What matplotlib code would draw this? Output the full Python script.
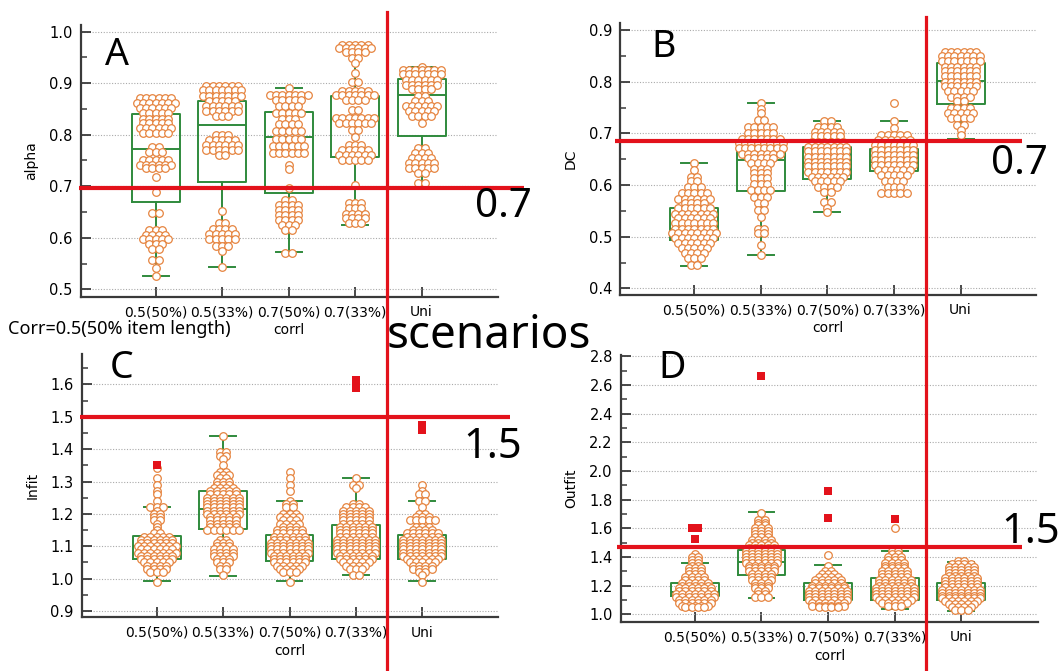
import numpy as np
import matplotlib
matplotlib.use('Agg')
import matplotlib.pyplot as plt
from matplotlib.lines import Line2D
from matplotlib.ticker import MultipleLocator, FormatStrFormatter

plt.rcParams['font.family'] = ['DejaVu Sans']

cats = ['0.5(50%)', '0.5(33%)', '0.7(50%)', '0.7(33%)', 'Uni']

# ---- A: alpha (value levels and number of replications at each level)
alpha_vals = [
    [0.871, 0.862, 0.852, 0.843, 0.830, 0.823, 0.813, 0.803, 0.777, 0.767, 0.751, 0.741,
     0.735, 0.718, 0.689, 0.648, 0.616, 0.606, 0.598, 0.588, 0.578, 0.556, 0.541, 0.525],
    [0.894, 0.886, 0.875, 0.866, 0.856, 0.846, 0.836, 0.800, 0.790, 0.781, 0.771, 0.760,
     0.652, 0.629, 0.617, 0.607, 0.597, 0.584, 0.575, 0.544],
    [0.891, 0.878, 0.868, 0.856, 0.843, 0.830, 0.820, 0.807, 0.791, 0.778, 0.765, 0.742,
     0.733, 0.697, 0.674, 0.664, 0.654, 0.645, 0.635, 0.625, 0.616, 0.571],
    [0.974, 0.968, 0.960, 0.949, 0.939, 0.919, 0.903, 0.884, 0.877, 0.867, 0.848, 0.832,
     0.822, 0.809, 0.796, 0.780, 0.770, 0.761, 0.751, 0.702, 0.667, 0.657, 0.647, 0.638, 0.628],
    [0.932, 0.926, 0.917, 0.907, 0.897, 0.888, 0.875, 0.865, 0.855, 0.846, 0.836, 0.823,
     0.775, 0.765, 0.755, 0.746, 0.736, 0.726, 0.707],
]
alpha_n = [
    [6, 7, 6, 5, 5, 5, 6, 5, 2, 3, 5, 6, 4, 1, 1, 2, 3, 4, 5, 3, 2, 2, 1, 1],
    [6, 7, 7, 5, 6, 6, 3, 3, 5, 6, 6, 2, 1, 2, 4, 5, 5, 3, 1, 1],
    [1, 7, 5, 4, 5, 3, 4, 5, 5, 6, 6, 1, 1, 1, 2, 4, 4, 4, 4, 3, 2, 2],
    [5, 6, 4, 2, 1, 1, 2, 5, 7, 4, 2, 7, 6, 2, 1, 3, 5, 6, 5, 1, 3, 3, 4, 4, 3],
    [1, 7, 7, 6, 6, 4, 2, 3, 6, 5, 4, 1, 2, 3, 4, 5, 5, 2, 2],
]
alpha_q1 = [0.670, 0.708, 0.686, 0.757, 0.797]
alpha_med = [0.772, 0.819, 0.796, 0.830, 0.877]
alpha_q3 = [0.841, 0.866, 0.845, 0.876, 0.908]
alpha_lo = [0.526, 0.544, 0.572, 0.624, 0.699]
alpha_hi = [0.869, 0.896, 0.891, 0.973, 0.932]

# ---- B: DC
dc_vals = [
    [0.642, 0.629, 0.616, 0.607, 0.597, 0.584, 0.574, 0.565, 0.555, 0.545, 0.536, 0.526,
     0.516, 0.507, 0.497, 0.487, 0.478, 0.468, 0.458, 0.445],
    [0.758, 0.748, 0.739, 0.726, 0.713, 0.700, 0.690, 0.681, 0.671, 0.661, 0.652, 0.642,
     0.632, 0.623, 0.613, 0.603, 0.590, 0.577, 0.565, 0.552, 0.539, 0.516, 0.507, 0.484, 0.464],
    [0.723, 0.713, 0.703, 0.694, 0.684, 0.674, 0.665, 0.655, 0.645, 0.636, 0.626, 0.616,
     0.607, 0.597, 0.587, 0.568, 0.555, 0.547],
    [0.758, 0.723, 0.710, 0.697, 0.687, 0.677, 0.668, 0.658, 0.648, 0.639, 0.629, 0.619,
     0.607, 0.597, 0.584],
    [0.857, 0.849, 0.839, 0.829, 0.820, 0.810, 0.800, 0.791, 0.781, 0.771, 0.762, 0.749,
     0.739, 0.729, 0.716, 0.707, 0.697],
]
dc_n = [
    [1, 1, 2, 2, 3, 5, 6, 4, 6, 7, 6, 7, 7, 8, 7, 6, 5, 4, 3, 2],
    [1, 1, 1, 2, 5, 5, 7, 8, 8, 7, 5, 4, 3, 3, 3, 3, 4, 3, 2, 2, 1, 2, 2, 1, 1],
    [2, 4, 5, 5, 6, 7, 7, 7, 7, 7, 7, 6, 5, 4, 2, 2, 1, 1],
    [1, 1, 1, 5, 6, 7, 7, 7, 7, 7, 6, 5, 4, 3, 5],
    [6, 7, 7, 6, 6, 6, 6, 6, 5, 4, 2, 4, 5, 4, 2, 1, 1],
]
dc_q1 = [0.494, 0.589, 0.612, 0.628, 0.756]
dc_med = [0.516, 0.649, 0.642, 0.645, 0.801]
dc_q3 = [0.556, 0.680, 0.673, 0.670, 0.836]
dc_lo = [0.443, 0.464, 0.547, 0.581, 0.690]
dc_hi = [0.642, 0.758, 0.723, 0.723, 0.857]

# ---- C: Infit
infit_vals = [
    [1.342, 1.31, 1.29, 1.27, 1.26, 1.24, 1.22, 1.21, 1.20, 1.19, 1.18, 1.17, 1.16, 1.15,
     1.14, 1.13, 1.12, 1.11, 1.10, 1.09, 1.08, 1.07, 1.06, 1.05, 1.04, 1.03, 1.02, 0.99],
    [1.44, 1.39, 1.38, 1.37, 1.35, 1.33, 1.32, 1.31, 1.30, 1.29, 1.28, 1.27, 1.26, 1.25,
     1.24, 1.23, 1.22, 1.21, 1.20, 1.19, 1.18, 1.17, 1.16, 1.15, 1.12, 1.11, 1.10, 1.09,
     1.08, 1.07, 1.06, 1.05, 1.04, 1.03, 1.01],
    [1.33, 1.31, 1.29, 1.27, 1.24, 1.23, 1.22, 1.20, 1.19, 1.18, 1.17, 1.16, 1.15, 1.14,
     1.13, 1.12, 1.11, 1.10, 1.09, 1.08, 1.07, 1.06, 1.05, 1.04, 1.03, 1.02, 0.99],
    [1.31, 1.29, 1.28, 1.23, 1.22, 1.21, 1.20, 1.19, 1.18, 1.17, 1.16, 1.15, 1.14, 1.13,
     1.12, 1.11, 1.10, 1.09, 1.08, 1.07, 1.06, 1.05, 1.04, 1.03, 1.01],
    [1.29, 1.27, 1.26, 1.24, 1.22, 1.20, 1.19, 1.18, 1.16, 1.15, 1.14, 1.13, 1.12, 1.11,
     1.10, 1.09, 1.08, 1.07, 1.06, 1.05, 1.04, 1.03, 1.02, 1.01, 0.99],
]
infit_n = [
    [1, 1, 1, 1, 1, 1, 3, 1, 2, 2, 2, 1, 1, 1, 2, 5, 6, 6, 7, 6, 7, 6, 6, 5, 4, 4, 3, 1],
    [1, 2, 2, 1, 1, 2, 3, 2, 3, 3, 4, 5, 5, 6, 6, 6, 6, 6, 6, 5, 5, 5, 5, 6, 2, 3, 3, 4,
     4, 4, 3, 3, 2, 2, 1],
    [1, 1, 1, 1, 1, 2, 2, 3, 4, 3, 4, 3, 5, 5, 6, 6, 7, 7, 7, 7, 6, 6, 6, 5, 4, 3, 1],
    [1, 2, 1, 2, 4, 5, 5, 5, 5, 5, 6, 6, 6, 6, 7, 7, 7, 7, 7, 6, 6, 5, 4, 3, 2],
    [1, 1, 2, 2, 1, 2, 3, 5, 3, 4, 6, 6, 7, 7, 7, 7, 7, 7, 6, 5, 4, 4, 2, 1, 1],
]
infit_q1 = [1.062, 1.152, 1.054, 1.062, 1.062]
infit_med = [1.100, 1.214, 1.092, 1.100, 1.090]
infit_q3 = [1.131, 1.270, 1.136, 1.165, 1.136]
infit_lo = [0.992, 1.009, 0.992, 1.010, 0.992]
infit_hi = [1.220, 1.441, 1.241, 1.310, 1.241]
infit_out = [[1.35], [], [], [1.59, 1.615], [1.46, 1.476]]
infit_out_n = [[1], [], [], [1, 1], [1, 1]]

# ---- D: Outfit
outfit_vals = [
    [1.42, 1.40, 1.38, 1.36, 1.34, 1.32, 1.30, 1.28, 1.26, 1.24, 1.22, 1.20, 1.18, 1.16,
     1.14, 1.12, 1.10, 1.08, 1.06, 1.05],
    [1.71, 1.66, 1.64, 1.62, 1.60, 1.58, 1.56, 1.54, 1.52, 1.50, 1.48, 1.46, 1.44, 1.42,
     1.40, 1.38, 1.36, 1.34, 1.32, 1.30, 1.28, 1.26, 1.24, 1.22, 1.20, 1.18, 1.16, 1.14, 1.12],
    [1.414, 1.34, 1.30, 1.28, 1.26, 1.24, 1.22, 1.20, 1.18, 1.16, 1.14, 1.12, 1.10, 1.08,
     1.06, 1.05],
    [1.60, 1.44, 1.42, 1.40, 1.38, 1.36, 1.34, 1.32, 1.30, 1.28, 1.26, 1.24, 1.22, 1.20,
     1.18, 1.16, 1.14, 1.12, 1.10, 1.08, 1.06],
    [1.37, 1.35, 1.33, 1.31, 1.29, 1.27, 1.25, 1.23, 1.21, 1.19, 1.17, 1.15, 1.13, 1.11,
     1.09, 1.07, 1.05, 1.03],
]
outfit_n = [
    [1, 2, 2, 2, 2, 3, 3, 3, 4, 4, 5, 5, 6, 6, 7, 7, 6, 6, 5, 4],
    [1, 2, 2, 2, 3, 3, 3, 3, 4, 4, 5, 5, 6, 6, 6, 6, 6, 5, 5, 5, 4, 4, 4, 3, 3, 3, 2, 2, 3],
    [1, 1, 2, 3, 4, 5, 5, 6, 6, 7, 7, 7, 7, 6, 6, 4],
    [1, 2, 2, 3, 3, 4, 4, 4, 5, 5, 5, 6, 6, 6, 7, 7, 7, 7, 6, 5, 3],
    [2, 4, 5, 5, 5, 5, 6, 6, 6, 6, 7, 7, 7, 7, 6, 5, 4, 3],
]
outfit_q1 = [1.128, 1.274, 1.100, 1.100, 1.100]
outfit_med = [1.158, 1.367, 1.151, 1.158, 1.147]
outfit_q3 = [1.216, 1.449, 1.221, 1.251, 1.216]
outfit_lo = [1.049, 1.112, 1.049, 1.037, 1.025]
outfit_hi = [1.356, 1.712, 1.344, 1.444, 1.367]
outfit_out = [[1.605, 1.525], [2.665], [1.86, 1.674], [1.665], []]
outfit_out_n = [[2, 1], [1], [1, 1], [1], []]

W, H = 1063, 671
green = '#2f8a3c'
orange = '#e6843f'
red = '#e3121b'
axcol = '#3a3a3a'

fig = plt.figure(figsize=(W / 100, H / 100), dpi=100)


def dot_rows(levels, counts, center, step):
    xs, ys = [], []
    for v, n in zip(levels, counts):
        xs.extend(center + (np.arange(n) - (n - 1) / 2) * step)
        ys.extend([v] * n)
    return xs, ys


def panel(rect, vals, ns, q1, med, q3, lo, hi, ylab, ylim, xlim, major, minor,
          thr, thr_x, outs=None, outs_n=None):
    ax = fig.add_axes(rect)
    stats = [dict(q1=q1[i], med=med[i], q3=q3[i], whislo=lo[i], whishi=hi[i], fliers=[])
             for i in range(len(cats))]
    lp = dict(color=green, lw=1.4)
    ax.bxp(stats, positions=range(len(cats)), widths=0.72, capwidths=0.39,
           showfliers=False, boxprops=lp, whiskerprops=lp, capprops=lp,
           medianprops=lp, manage_ticks=False, zorder=2)
    for i in range(len(cats)):
        xs, ys = dot_rows(vals[i], ns[i], i, 0.095)
        ax.scatter(xs, ys, s=30, facecolor='white', edgecolor=orange,
                   linewidth=0.9, zorder=3)
        if outs is not None and outs[i]:
            xs, ys = dot_rows(outs[i], outs_n[i], i, 0.1)
            ax.scatter(xs, ys, s=36, marker='s', color=red, zorder=4, linewidth=0)
    ax.plot(thr_x, [thr, thr], color=red, lw=3, clip_on=False, zorder=6,
            solid_capstyle='butt')
    ax.set_xlim(*xlim)
    ax.set_ylim(*ylim)
    ax.set_xticks(range(len(cats)))
    ax.set_xticklabels(cats, fontsize=10)
    ax.yaxis.set_major_locator(MultipleLocator(major))
    ax.yaxis.set_minor_locator(MultipleLocator(minor))
    ax.yaxis.set_major_formatter(FormatStrFormatter('%.1f'))
    ax.tick_params(axis='y', labelsize=10.5)
    ax.tick_params(which='major', direction='in', length=7, width=1.3, color=axcol,
                   pad=6)
    ax.tick_params(which='minor', direction='in', length=4, width=1.1, color=axcol)
    ax.tick_params(axis='x', which='minor', length=0)
    ax.yaxis.grid(True, ls=(0, (1, 1.5)), color='#aaaaaa', lw=0.8)
    ax.set_axisbelow(True)
    for s in ['top', 'right']:
        ax.spines[s].set_visible(False)
    for s in ['left', 'bottom']:
        ax.spines[s].set_color(axcol)
        ax.spines[s].set_linewidth(1.6)
    ax.set_ylabel(ylab, fontsize=10, labelpad=8)
    ax.set_xlabel('corrl', fontsize=10, labelpad=3)
    return ax


panel([80.9 / W, 1 - 296.7 / H, 416.7 / W, 271.7 / H], alpha_vals, alpha_n,
      alpha_q1, alpha_med, alpha_q3, alpha_lo, alpha_hi, 'alpha',
      (0.4856, 1.013), (-1.123, 5.143), 0.1, 0.05, 0.697, [-1.152, 5.54])
panel([620.4 / W, 1 - 295 / H, 415.6 / W, 272.3 / H], dc_vals, dc_n,
      dc_q1, dc_med, dc_q3, dc_lo, dc_hi, 'DC',
      (0.3874, 0.914), (-1.108, 5.132), 0.1, 0.05, 0.685, [-1.189, 4.92])
panel([82 / W, 1 - 617.3 / H, 416 / W, 263.3 / H], infit_vals, infit_n,
      infit_q1, infit_med, infit_q3, infit_lo, infit_hi, 'Infit',
      (0.8805, 1.694), (-1.125, 5.14), 0.1, 0.05, 1.498, [-1.155, 5.315],
      infit_out, infit_out_n)
panel([621.1 / W, 1 - 622 / H, 416.6 / W, 267 / H], outfit_vals, outfit_n,
      outfit_q1, outfit_med, outfit_q3, outfit_lo, outfit_hi, 'Outfit',
      (0.946, 2.809), (-1.108, 5.147), 0.2, 0.1, 1.4675, [-1.17, 4.91],
      outfit_out, outfit_out_n)

# vertical red separators
fig.add_artist(Line2D([387 / W] * 2, [0, 1 - 12 / H], transform=fig.transFigure,
                      color=red, lw=2.3, zorder=10))
fig.add_artist(Line2D([925.5 / W] * 2, [0, 1 - 16.6 / H], transform=fig.transFigure,
                      color=red, lw=2.3, zorder=10))

big = dict(family=['Noto Sans', 'DejaVu Sans'], va='baseline', ha='left', color='black')
fig.text(105 / W, 1 - 65 / H, 'A', fontsize=27, **big)
fig.text(651.6 / W, 1 - 57 / H, 'B', fontsize=27, **big)
fig.text(110 / W, 1 - 378 / H, 'C', fontsize=27, **big)
fig.text(658.5 / W, 1 - 378 / H, 'D', fontsize=27, **big)
fig.text(475 / W, 1 - 216.7 / H, '0.7', fontsize=29, **big)
fig.text(991 / W, 1 - 174 / H, '0.7', fontsize=29, **big)
fig.text(463 / W, 1 - 458.3 / H, '1.5', fontsize=30, **big)
fig.text(1001 / W, 1 - 543 / H, '1.5', fontsize=30, **big)
fig.text(386.5 / W, 1 - 348 / H, 'scenarios', fontsize=33, **big)
fig.text(7.7 / W, 1 - 334 / H, 'Corr=0.5(50% item length)', fontsize=13, **big)

fig.savefig('out.png', dpi=100)
